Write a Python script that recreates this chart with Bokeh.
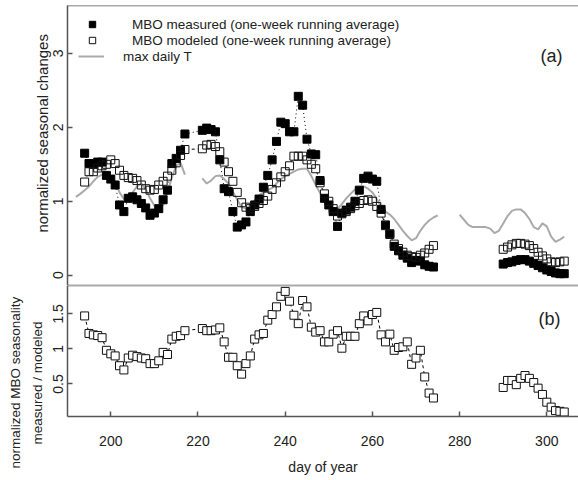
import math
from bokeh.plotting import figure
from bokeh.models import Range1d, Span, Label, Legend, LegendItem, FixedTicker, Title
from bokeh.layouts import column
from bokeh.embed import file_html
from bokeh.resources import INLINE

NAN = float("nan")

# ---------------- data ----------------
x_ticks = [200, 220, 240, 260, 280, 300]
y_ticks_a = [0, 1, 2, 3]
y_ticks_b = [0.5, 1.0, 1.5]

# segment start days
seg_starts = [194, 221, 290]
temp_starts = [192, 221, 280]

# MBO measured (one-week running average)
meas_1 = [1.65, 1.51, 1.50, 1.53, 1.53, 1.35, 1.30, 1.22, 0.95, 0.86, 1.04, 1.06,
          1.02, 0.97, 0.91, 0.81, 0.84, 0.90, 1.02, 1.15, 1.51, 1.58, 1.69, 1.91]
meas_2 = [1.96, 1.99, 1.97, 1.94, 1.56, 1.17, 1.13, 0.86, 0.65, 0.68,
          0.72, 0.86, 0.95, 1.03, 1.19, 1.35, 1.56, 1.81, 2.07, 2.05,
          1.94, 1.94, 2.42, 2.30, 1.84, 1.64, 1.63, 1.28, 1.04, 0.95,
          0.86, 0.66, 0.84, 0.88, 0.92, 1.00, 1.15, 1.31, 1.34, 1.30,
          1.27, 0.89, 0.68, 0.56, 0.39, 0.33, 0.27, 0.23, 0.17, 0.20,
          0.19, 0.14, 0.12, 0.11]
meas_3 = [0.15, 0.17, 0.18, 0.20, 0.21, 0.21, 0.19, 0.16, 0.13, 0.10, 0.07, 0.05,
          0.03, 0.02, 0.02]

# MBO modeled (one-week running average)
mod_1 = [1.26, 1.40, 1.40, 1.45, 1.48, 1.50, 1.56, 1.51, 1.42, 1.35, 1.32, 1.31,
         1.28, 1.22, 1.17, 1.15, 1.16, 1.22, 1.27, 1.34, 1.42, 1.52, 1.62, 1.70]
mod_2 = [1.71, 1.76, 1.77, 1.74, 1.67, 1.53, 1.40, 1.27, 1.12, 0.98,
         0.92, 0.90, 0.93, 0.97, 1.01, 1.07, 1.16, 1.25, 1.33, 1.40,
         1.48, 1.61, 1.61, 1.61, 1.56, 1.50, 1.44, 1.25, 1.10, 1.00,
         0.90, 0.80, 0.83, 0.86, 0.90, 0.94, 0.97, 1.01, 1.02, 1.00,
         0.93, 0.84, 0.67, 0.55, 0.42, 0.36, 0.31, 0.27, 0.25, 0.24,
         0.27, 0.30, 0.35, 0.40]
mod_3 = [0.35, 0.38, 0.41, 0.43, 0.43, 0.42, 0.40, 0.36, 0.31, 0.26, 0.22, 0.18,
         0.17, 0.18, 0.19]

# max daily T
temp_1 = [1.06, 1.10, 1.15, 1.20, 1.27, 1.33, 1.36, 1.34, 1.33, 1.26, 1.12, 1.03,
          1.04, 1.12, 1.20, 1.24, 1.16, 1.04, 0.94, 0.88, 0.95, 1.12, 1.32, 1.48,
          1.52, 1.36]
temp_2 = [1.31, 1.24, 1.28, 1.34, 1.35, 1.30, 1.24, 1.13, 1.02, 0.92,
          0.90, 0.94, 1.01, 1.08, 1.12, 1.15, 1.18, 1.24, 1.30, 1.34,
          1.37, 1.40, 1.43, 1.44, 1.44, 1.34, 1.22, 1.11, 0.99, 0.92,
          0.88, 0.90, 0.96, 1.04, 1.10, 1.16, 1.19, 1.20, 1.17, 1.12,
          1.03, 0.93, 0.86, 0.82, 0.76, 0.68, 0.60, 0.53, 0.47, 0.50,
          0.60, 0.68, 0.74, 0.78, 0.81]
temp_3 = [0.82, 0.75, 0.68, 0.65, 0.65, 0.65, 0.65, 0.63, 0.57, 0.60, 0.70, 0.80,
          0.87, 0.89, 0.89, 0.84, 0.76, 0.65, 0.62, 0.70, 0.66, 0.52, 0.45, 0.48,
          0.52]

# normalized MBO seasonality measured / modeled
ratio_1 = [1.47, 1.22, 1.20, 1.19, 1.16, 0.98, 0.93, 0.90, 0.76, 0.70, 0.87, 0.91,
           0.89, 0.87, 0.86, 0.79, 0.79, 0.83, 0.95, 0.92, 1.14, 1.18, 1.19, 1.26]
ratio_2 = [1.29, 1.26, 1.26, 1.27, 1.30, 1.10, 0.88, 0.88, 0.76, 0.64,
           0.79, 0.90, 1.14, 1.20, 1.22, 1.41, 1.49, 1.60, 1.75, 1.82,
           1.68, 1.48, 1.36, 1.69, 1.60, 1.31, 1.24, 1.26, 1.10, 1.10,
           1.21, 1.26, 1.01, 1.18, 1.18, 1.18, 1.36, 1.47, 1.40, 1.49,
           1.52, 1.20, 1.10, 1.21, 0.98, 1.02, 1.03, 1.10, 0.78, 0.87,
           0.98, 0.60, 0.37, 0.30]
ratio_3 = [0.45, 0.55, 0.55, 0.49, 0.58, 0.62, 0.58, 0.52, 0.44, 0.35, 0.24, 0.17,
           0.12, 0.11, 0.10]

ylabel_a = "normalized seasonal changes"
ylabel_b = ["normalized MBO seasonality", "measured / modeled"]


def days(start, vals):
    return list(range(start, start + len(vals)))


def points(segs, starts):
    xs, ys = [], []
    for s, v in zip(starts, segs):
        xs += days(s, v)
        ys += v
    return xs, ys


def joined(segs, starts, connect):
    xs, ys = [], []
    for i, (s, v) in enumerate(zip(starts, segs)):
        if i > 0 and not connect[i - 1]:
            xs.append(NAN)
            ys.append(NAN)
        xs += days(s, v)
        ys += v
    return xs, ys


m_x, m_y = points([meas_1, meas_2, meas_3], seg_starts)
o_x, o_y = points([mod_1, mod_2, mod_3], seg_starts)
r_x, r_y = points([ratio_1, ratio_2, ratio_3], seg_starts)
m_lx, m_ly = joined([meas_1, meas_2, meas_3], seg_starts, [True, False])
o_lx, o_ly = joined([mod_1, mod_2, mod_3], seg_starts, [True, False])
r_lx, r_ly = joined([ratio_1, ratio_2, ratio_3], seg_starts, [True, False])
t_lx, t_ly = joined([temp_1, temp_2, temp_3], temp_starts, [False, False])

# ---------------- styling ----------------
FONT = "Liberation Sans"
TXT = "#222222"
AX = "#555555"
GREY = "#aaaaaa"
SQ = 8
LEFT = 67
FW = 511

x_range = Range1d(190.07, 307.27)
ya_bot, ya_top = -0.14, 3.649
yb_bot, yb_top = 0.036, 1.904


def style_axis(ax):
    ax.axis_line_color = AX
    ax.axis_line_width = 1.5
    ax.major_tick_line_color = AX
    ax.major_tick_line_width = 1.5
    ax.major_tick_in = 5
    ax.major_tick_out = 0
    ax.minor_tick_line_color = None
    ax.major_label_text_font = FONT
    ax.major_label_text_font_size = "14px"
    ax.major_label_text_color = TXT
    ax.axis_label_text_font = FONT
    ax.axis_label_text_font_style = "normal"
    ax.axis_label_text_color = TXT


# ---------------- panel (a) ----------------
p1 = figure(frame_width=FW, frame_height=280, x_range=x_range,
            y_range=Range1d(ya_bot, ya_top), output_backend="svg",
            toolbar_location=None, title=None, x_axis_location=None,
            min_border_left=LEFT, min_border_right=0, min_border_top=5,
            min_border_bottom=0)
p1.outline_line_color = None
p1.grid.visible = False
ya = p1.yaxis[0]
style_axis(ya)
ya.ticker = FixedTicker(ticks=y_ticks_a)
ya.major_label_orientation = "parallel"
ya.major_label_standoff = 4
p1.add_layout(Title(text=ylabel_a, align="left", offset=53, standoff=0,
                    text_font=FONT, text_font_size="15px",
                    text_font_style="normal", text_color=TXT), "left")

p1.add_layout(Span(location=ya_top, dimension="width", line_color=AX, line_width=1.5))
p1.add_layout(Span(location=ya_bot, dimension="width", line_color=AX, line_width=1.5))

p1.line(m_lx, m_ly, line_color="black", line_width=1, line_dash="1 3")
p1.line(o_lx, o_ly, line_color="black", line_width=1, line_dash="3 3")
p1.scatter(o_x, o_y, marker="square", size=SQ, fill_color="white", line_color=None)
r_temp = p1.line(t_lx, t_ly, line_color=GREY, line_width=2)
r_meas = p1.scatter(m_x, m_y, marker="square", size=SQ, fill_color="black",
                    line_color="black", line_width=1)
r_mod = p1.scatter(o_x, o_y, marker="square", size=SQ, fill_alpha=0,
                   line_color="#111111", line_width=1)

leg1 = Legend(items=[LegendItem(label="MBO measured (one-week running average)", renderers=[r_meas]),
                     LegendItem(label="MBO modeled (one-week running average)", renderers=[r_mod])],
              location=(15, 237), glyph_width=20, glyph_height=16, label_height=16,
              label_standoff=30, spacing=0, padding=0, margin=0,
              border_line_color=None, background_fill_alpha=0,
              label_text_font=FONT, label_text_font_size="13.5px", label_text_color=TXT)
leg2 = Legend(items=[LegendItem(label="max daily T", renderers=[r_temp])],
              location=(11, 221), glyph_width=26, glyph_height=16, label_height=16,
              label_standoff=19, spacing=0, padding=0, margin=0,
              border_line_color=None, background_fill_alpha=0,
              label_text_font=FONT, label_text_font_size="13.5px", label_text_color=TXT)
p1.add_layout(leg1)
p1.add_layout(leg2)
p1.add_layout(Label(x=495, y=230, x_units="screen", y_units="screen", text="(a)",
                    text_align="right", text_baseline="middle", text_font=FONT,
                    text_font_size="18px", text_color=TXT))

# ---------------- panel (b) ----------------
p2 = figure(frame_width=FW, frame_height=131, x_range=x_range,
            y_range=Range1d(yb_bot, yb_top), output_backend="svg",
            toolbar_location=None, title=None,
            min_border_left=LEFT, min_border_right=0, min_border_top=0,
            min_border_bottom=0)
p2.outline_line_color = None
p2.grid.visible = False
xb = p2.xaxis[0]
style_axis(xb)
xb.ticker = FixedTicker(ticks=x_ticks)
xb.major_label_standoff = 19
xb.axis_label = "day of year"
xb.axis_label_text_font_size = "14px"
xb.axis_label_standoff = 10
yb = p2.yaxis[0]
style_axis(yb)
yb.ticker = FixedTicker(ticks=y_ticks_b)
yb.major_label_orientation = "parallel"
yb.major_label_standoff = 4

# two-line y label of panel (b); it sits lower than the panel centre, as in the
# reference, so each line starts below the frame bottom (negative offset).
for line, stand, off in zip(reversed(ylabel_b), [11, 0], [-28, -52]):
    p2.add_layout(Title(text=line, align="left", offset=off, standoff=stand,
                        text_font=FONT, text_font_size="13.5px",
                        text_font_style="normal", text_color=TXT), "left")

p2.add_layout(Span(location=yb_top, dimension="width", line_color=AX, line_width=1.5))
p2.line(r_lx, r_ly, line_color="black", line_width=1, line_dash="3 3")
p2.scatter(r_x, r_y, marker="square", size=SQ, fill_color="white",
           line_color="#111111", line_width=1)
p2.add_layout(Label(x=493, y=98, x_units="screen", y_units="screen", text="(b)",
                    text_align="right", text_baseline="middle", text_font=FONT,
                    text_font_size="18px", text_color=TXT))

layout = column(p1, p2, spacing=0)
open("out.html", "w").write(file_html(layout, INLINE))
